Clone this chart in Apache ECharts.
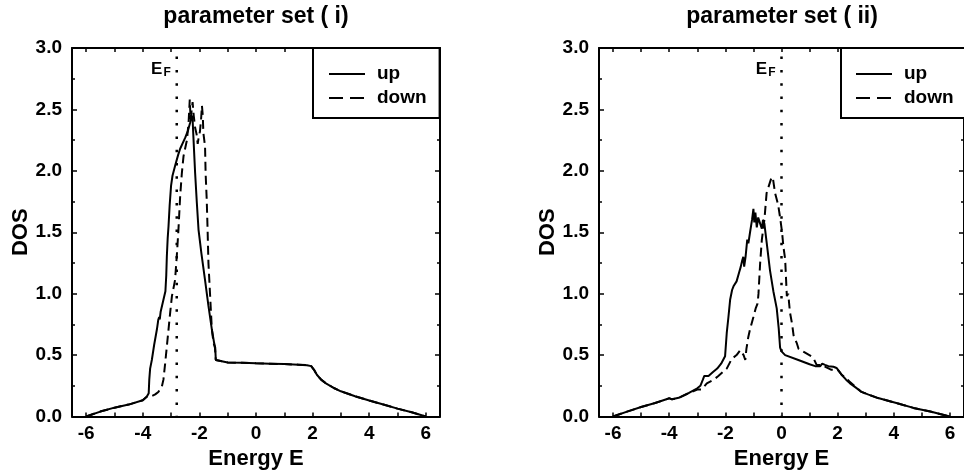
<!DOCTYPE html>
<html>
<head>
<meta charset="utf-8">
<script src="https://cdn.jsdelivr.net/npm/echarts@6/dist/echarts.min.js"></script>
<style>
  html, body { margin: 0; padding: 0; background: #fff; }
  #chart { width: 964px; height: 476px; }
</style>
</head>
<body>
<div id="chart"></div>
<script>
const FONT = '"Liberation Sans", Arial, Helvetica, sans-serif';

// Panel titles and axis ticks
const panelTitles = ['parameter set ( i)', 'parameter set ( ii)'];
const energyLabels = [-6, -4, -2, 0, 2, 4, 6];
const energyTicks = [-6, -5, -4, -3, -2, -1, 0, 1, 2, 3, 4, 5, 6];
const fermiEnergy = [-2.8, 0];

// Density of states, parameter set (i): [energy, DOS]
const upI = [
  [-6.0,0.0],[-5.5,0.04],[-5.0,0.072],[-4.5,0.097],[-4.0,0.132],[-3.86,0.16],[-3.79,0.19],
  [-3.77,0.3],[-3.74,0.39],[-3.68,0.46],[-3.6,0.58],[-3.5,0.71],[-3.45,0.79],[-3.42,0.81],
  [-3.4,0.79],[-3.37,0.85],[-3.27,0.95],[-3.2,1.02],[-3.17,1.15],[-3.15,1.3],[-3.12,1.45],
  [-3.09,1.55],[-3.05,1.72],[-3.0,1.88],[-2.95,1.96],[-2.86,2.04],[-2.75,2.13],[-2.68,2.18],
  [-2.5,2.27],[-2.4,2.33],[-2.33,2.39],[-2.27,2.45],[-2.24,2.42],[-2.21,2.27],[-2.15,1.98],
  [-2.09,1.74],[-2.03,1.52],[-1.93,1.33],[-1.8,1.11],[-1.68,0.9],[-1.56,0.71],[-1.48,0.6],
  [-1.44,0.56],[-1.42,0.46],[-1.38,0.445],[-1.0,0.44],[-0.5,0.437],[0.0,0.433],[0.5,0.43],
  [1.0,0.427],[1.5,0.422],[1.8,0.418],[1.95,0.41],[2.05,0.38],[2.15,0.34],[2.3,0.3],
  [2.5,0.265],[2.75,0.232],[3.0,0.205],[3.5,0.165],[4.0,0.13],[4.5,0.097],[5.0,0.064],
  [5.5,0.034],[6.0,0.0]
];
const downI = [
  [-6.0,0.0],[-5.5,0.04],[-5.0,0.072],[-4.5,0.097],[-4.0,0.132],[-3.86,0.16],[-3.74,0.16],
  [-3.65,0.17],[-3.56,0.18],[-3.45,0.2],[-3.33,0.24],[-3.27,0.3],[-3.21,0.43],[-3.15,0.57],
  [-3.09,0.71],[-3.03,0.85],[-2.97,0.98],[-2.86,1.11],[-2.8,1.3],[-2.74,1.52],[-2.68,1.79],
  [-2.62,1.98],[-2.56,2.12],[-2.44,2.25],[-2.38,2.4],[-2.34,2.58],[-2.31,2.42],[-2.27,2.5],
  [-2.24,2.56],[-2.2,2.45],[-2.15,2.35],[-2.1,2.3],[-2.06,2.22],[-2.02,2.28],[-1.98,2.32],
  [-1.94,2.42],[-1.91,2.53],[-1.88,2.45],[-1.86,2.31],[-1.83,2.3],[-1.8,2.2],[-1.78,1.98],
  [-1.74,1.76],[-1.71,1.52],[-1.68,1.25],[-1.62,0.98],[-1.56,0.71],[-1.5,0.6],[-1.45,0.56],
  [-1.42,0.46],[-1.38,0.445],[-1.0,0.44],[-0.5,0.437],[0.0,0.433],[0.5,0.43],[1.0,0.427],
  [1.5,0.422],[1.8,0.418],[1.95,0.41],[2.05,0.38],[2.15,0.34],[2.3,0.3],[2.5,0.265],
  [2.75,0.232],[3.0,0.205],[3.5,0.165],[4.0,0.13],[4.5,0.097],[5.0,0.064],[5.5,0.034],
  [6.0,0.0]
];

// Density of states, parameter set (ii): [energy, DOS]
const upII = [
  [-6.0,0.0],[-5.5,0.04],[-5.0,0.077],[-4.5,0.11],[-4.1,0.14],[-4.0,0.15],[-3.9,0.14],
  [-3.66,0.152],[-3.31,0.19],[-3.0,0.23],[-2.89,0.25],[-2.8,0.3],[-2.75,0.33],[-2.7,0.32],
  [-2.6,0.33],[-2.45,0.36],[-2.29,0.39],[-2.15,0.43],[-2.01,0.49],[-1.95,0.68],[-1.89,0.81],
  [-1.83,0.95],[-1.76,1.03],[-1.71,1.06],[-1.65,1.05],[-1.6,1.1],[-1.5,1.18],[-1.45,1.22],
  [-1.4,1.27],[-1.36,1.3],[-1.33,1.22],[-1.28,1.3],[-1.22,1.44],[-1.18,1.41],[-1.12,1.5],
  [-1.05,1.6],[-1.0,1.69],[-0.97,1.58],[-0.93,1.66],[-0.88,1.54],[-0.83,1.62],[-0.76,1.57],
  [-0.7,1.53],[-0.66,1.6],[-0.61,1.57],[-0.53,1.42],[-0.41,1.19],[-0.29,1.02],[-0.17,0.88],
  [-0.1,0.72],[-0.05,0.56],[0.0,0.53],[0.13,0.5],[0.6,0.46],[1.0,0.425],[1.2,0.41],
  [1.38,0.41],[1.45,0.43],[1.55,0.42],[1.67,0.41],[1.85,0.405],[1.96,0.395],[2.05,0.37],
  [2.14,0.34],[2.3,0.3],[2.44,0.27],[2.65,0.235],[2.85,0.2],[3.1,0.178],[3.44,0.15],
  [4.09,0.11],[4.7,0.07],[5.3,0.04],[6.0,0.0]
];
const downII = [
  [-6.0,0.0],[-5.5,0.04],[-5.0,0.077],[-4.5,0.11],[-4.1,0.14],[-4.0,0.148],[-3.9,0.14],
  [-3.66,0.152],[-3.31,0.19],[-3.0,0.22],[-2.84,0.22],[-2.66,0.27],[-2.41,0.3],[-2.25,0.33],
  [-1.95,0.39],[-1.77,0.47],[-1.6,0.5],[-1.47,0.54],[-1.35,0.5],[-1.29,0.46],[-1.25,0.55],
  [-1.18,0.65],[-1.12,0.71],[-1.0,0.81],[-0.92,0.88],[-0.85,0.92],[-0.82,1.0],[-0.76,1.25],
  [-0.7,1.44],[-0.61,1.6],[-0.53,1.82],[-0.42,1.9],[-0.35,1.95],[-0.3,1.93],[-0.23,1.82],
  [-0.15,1.75],[-0.11,1.71],[-0.05,1.62],[0.02,1.5],[0.07,1.38],[0.13,1.28],[0.19,0.98],
  [0.24,1.0],[0.3,0.85],[0.38,0.75],[0.43,0.66],[0.54,0.6],[0.61,0.55],[0.84,0.52],
  [1.07,0.49],[1.15,0.47],[1.25,0.42],[1.45,0.42],[1.6,0.4],[1.78,0.38],[2.0,0.38],
  [2.14,0.34],[2.32,0.31],[2.44,0.28],[2.65,0.24],[2.85,0.2],[3.1,0.178],[3.44,0.15],
  [4.09,0.11],[4.7,0.07],[5.3,0.04],[6.0,0.0]
];

const panelData = [
  { up: upI, down: downI },
  { up: upII, down: downII }
];

// Plot-box geometry and legend placement for the two panels
const layout = [
  { left: 72, width: 368, titleX: 256, legendLeft: 313, legendPad: [16, 13, 10, 15] },
  { left: 599, width: 367, titleX: 782, legendLeft: 841, legendPad: [16, 80, 10, 14] }
];

const black = '#000';
const boldText = (size) => ({ fontFamily: FONT, fontWeight: 'bold', fontSize: size, color: black });

const grid = [], xAxis = [], yAxis = [], series = [], title = [], legend = [];

layout.forEach((p, i) => {
  grid.push({ left: p.left, top: 48, width: p.width, height: 368.5, containLabel: false });

  title.push({
    text: panelTitles[i], left: p.titleX, top: 5, textAlign: 'center', padding: 0,
    textStyle: boldText(23)
  });

  const frameLine = { show: true, onZero: false, lineStyle: { color: black, width: 2 } };
  const xTicks = { show: true, inside: true, length: 4, customValues: energyTicks,
                   lineStyle: { color: black, width: 1.5 } };

  xAxis.push({
    gridIndex: i, type: 'value', min: -6.5, max: 6.5, position: 'bottom',
    name: 'Energy E', nameLocation: 'middle', nameGap: 25, nameTextStyle: boldText(22),
    axisLine: frameLine, axisTick: xTicks,
    axisLabel: { customValues: energyLabels, margin: 8, ...boldText(19) },
    splitLine: { show: false }
  });
  xAxis.push({
    gridIndex: i, type: 'value', min: -6.5, max: 6.5, position: 'top',
    axisLine: frameLine, axisTick: xTicks,
    axisLabel: { show: false }, splitLine: { show: false }
  });

  const yTicks = { show: true, inside: true, length: 5, lineStyle: { color: black, width: 1.5 } };
  const yMinor = { show: true, splitNumber: 2, length: 3, lineStyle: { color: black, width: 1.5 } };
  yAxis.push({
    gridIndex: i, type: 'value', min: 0, max: 3, interval: 0.5, position: 'left',
    name: 'DOS', nameLocation: 'middle', nameGap: 39, nameRotate: 90, nameTextStyle: boldText(22),
    axisLine: frameLine, axisTick: yTicks, minorTick: yMinor,
    axisLabel: { margin: 10, formatter: (v) => v.toFixed(1), ...boldText(19) },
    splitLine: { show: false }, minorSplitLine: { show: false }
  });
  yAxis.push({
    gridIndex: i, type: 'value', min: 0, max: 3, interval: 0.5, position: 'right',
    axisLine: frameLine, axisTick: yTicks, minorTick: yMinor,
    axisLabel: { show: false }, splitLine: { show: false }, minorSplitLine: { show: false }
  });

  const axes = { xAxisIndex: 2 * i, yAxisIndex: 2 * i };
  series.push({
    ...axes, type: 'line', name: 'up', data: panelData[i].up, symbol: 'none', silent: true,
    itemStyle: { color: black }, lineStyle: { color: black, width: 2, type: 'solid' }, z: 4
  });
  series.push({
    ...axes, type: 'line', name: 'down', data: panelData[i].down, symbol: 'none', silent: true,
    itemStyle: { color: black }, lineStyle: { color: black, width: 2, type: [9, 5] }, z: 3
  });
  // Fermi level marker
  series.push({
    ...axes, type: 'line', name: 'fermi', data: [[fermiEnergy[i], 2.93], [fermiEnergy[i], 0]],
    symbol: 'none', silent: true,
    lineStyle: { color: black, width: 2.5, type: [2.5, 10.8], cap: 'butt' }, z: 2
  });
  series.push({
    ...axes, type: 'scatter', name: 'fermiLabel', data: [[fermiEnergy[i], 2.83]],
    symbolSize: 0, silent: true, itemStyle: { color: black, opacity: 1 },
    label: {
      show: true, position: 'left', distance: 6, color: black, formatter: '{e|E}{f|F}',
      rich: {
        e: { fontFamily: FONT, fontWeight: 'bold', fontSize: 17, color: black },
        f: { fontFamily: FONT, fontWeight: 'bold', fontSize: 12, color: black,
             verticalAlign: 'bottom', padding: [8, 0, 0, 1] }
      }
    }
  });

  legend.push({
    data: [{ name: 'up' }, { name: 'down', lineStyle: { type: [14, 7] } }],
    orient: 'vertical', left: p.legendLeft, top: 48, padding: p.legendPad,
    itemWidth: 36, itemHeight: 14, itemGap: 4, selectedMode: false,
    itemStyle: { color: 'rgba(0,0,0,0)', borderWidth: 0 },
    borderColor: black, borderWidth: 2, backgroundColor: '#fff',
    textStyle: { ...boldText(19), lineHeight: 20, padding: [0, 0, 0, 7] }
  });
});

const chart = echarts.init(document.getElementById('chart'), null, { renderer: 'canvas' });
chart.setOption({
  animation: false,
  backgroundColor: '#fff',
  title, legend, grid, xAxis, yAxis, series
});
</script>
</body>
</html>
